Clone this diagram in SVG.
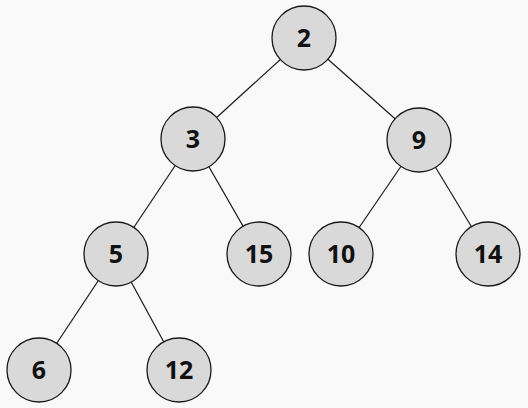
<svg xmlns="http://www.w3.org/2000/svg" width="528" height="408" viewBox="0 0 528 408">
<style>
.n circle{fill:#d9d9d9;stroke:#1a1a1a;stroke-width:1.3}
.n text{font-family:"Noto Sans","Open Sans",sans-serif;font-size:25px;font-weight:700;fill:#111;text-anchor:middle;dominant-baseline:central}
.e line{stroke:#1a1a1a;stroke-width:1.2}
</style>
<rect width="528" height="408" fill="#f9f9f9"/>
<g id="edges" class="e">
<line x1="304" y1="38" x2="193" y2="139"/>
<line x1="304" y1="38" x2="419" y2="140"/>
<line x1="193" y1="139" x2="116" y2="254"/>
<line x1="193" y1="139" x2="259" y2="254"/>
<line x1="419" y1="140" x2="341" y2="254"/>
<line x1="419" y1="140" x2="488" y2="254"/>
<line x1="116" y1="254" x2="39" y2="370"/>
<line x1="116" y1="254" x2="179" y2="370"/>
</g>
<g id="n2" class="n"><circle cx="304" cy="38" r="32"/><text x="304" y="37">2</text></g>
<g id="n3" class="n"><circle cx="193" cy="139" r="32"/><text x="193" y="138">3</text></g>
<g id="n9" class="n"><circle cx="419" cy="140" r="32"/><text x="419" y="139">9</text></g>
<g id="n5" class="n"><circle cx="116" cy="254" r="32"/><text x="116" y="253">5</text></g>
<g id="n15" class="n"><circle cx="259" cy="254" r="32"/><text x="259" y="253">15</text></g>
<g id="n10" class="n"><circle cx="341" cy="254" r="32"/><text x="341" y="253">10</text></g>
<g id="n14" class="n"><circle cx="488" cy="254" r="32"/><text x="488" y="253">14</text></g>
<g id="n6" class="n"><circle cx="39" cy="370" r="32"/><text x="39" y="369">6</text></g>
<g id="n12" class="n"><circle cx="179" cy="370" r="32"/><text x="179" y="369">12</text></g>
</svg>
